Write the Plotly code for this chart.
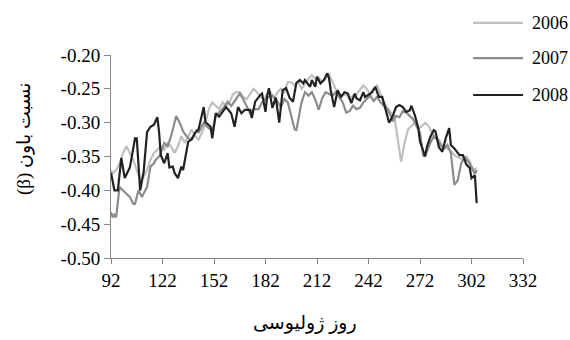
import plotly.graph_objects as go

# ---------------- data ----------------
days_2006 = [92, 93, 95, 97, 99, 101, 103, 105, 107, 109, 111, 113, 115, 117, 119, 121, 123, 125, 127, 129,
             131, 133, 135, 137, 139, 141, 143, 145, 147, 149, 151, 153, 155, 157, 159, 161, 163, 165, 167, 169,
             171, 173, 175, 177, 179, 181, 183, 185, 187, 189, 191, 193, 195, 197, 199, 201, 203, 205, 207, 209,
             211, 213, 215, 217, 219, 221, 223, 225, 227, 229, 231, 233, 235, 237, 239, 241, 243, 245, 247, 249,
             251, 253, 255, 257, 259, 261, 263, 265, 267, 269, 271, 273, 275, 277, 279, 281, 283, 285, 287, 289,
             291, 293, 295, 297, 299, 301, 303, 305]
vals_2006 = [-0.370, -0.375, -0.370, -0.360, -0.345, -0.335, -0.345, -0.355, -0.370, -0.385, -0.380, -0.370,
             -0.355, -0.345, -0.340, -0.335, -0.340, -0.330, -0.335, -0.345, -0.335, -0.320, -0.330, -0.320,
             -0.310, -0.320, -0.325, -0.315, -0.300, -0.280, -0.270, -0.275, -0.280, -0.270, -0.275, -0.270,
             -0.258, -0.255, -0.255, -0.262, -0.265, -0.258, -0.250, -0.255, -0.262, -0.265, -0.258, -0.255,
             -0.265, -0.255, -0.250, -0.255, -0.240, -0.240, -0.245, -0.240, -0.250, -0.243, -0.235, -0.230,
             -0.235, -0.233, -0.240, -0.235, -0.228, -0.240, -0.250, -0.262, -0.260, -0.258, -0.265, -0.260,
             -0.258, -0.252, -0.245, -0.250, -0.258, -0.250, -0.245, -0.258, -0.270, -0.278, -0.285, -0.290,
             -0.325, -0.358, -0.330, -0.310, -0.305, -0.300, -0.310, -0.305, -0.300, -0.305, -0.315, -0.322,
             -0.325, -0.335, -0.338, -0.340, -0.345, -0.350, -0.352, -0.355, -0.350, -0.357, -0.370, -0.367]

days_2007 = [92, 93, 94, 95, 97, 99, 101, 103, 105, 106, 108, 110, 112, 113, 115, 117, 118, 120, 121, 123,
             125, 127, 129, 130, 132, 134, 136, 138, 140, 142, 143, 145, 146, 148, 150, 151, 153, 155, 157, 160,
             162, 163, 165, 167, 169, 171, 173, 175, 178, 180, 183, 186, 188, 191, 193, 195, 197, 199, 200, 201,
             203, 205, 207, 209, 211, 213, 215, 217, 219, 221, 223, 225, 227, 229, 231, 233, 235, 237, 239, 241,
             243, 245, 247, 249, 251, 253, 255, 256, 258, 260, 262, 264, 266, 268, 270, 272, 274, 276, 278, 280,
             282, 284, 286, 288, 290, 292, 294, 296, 298, 300, 302, 304, 305]
vals_2007 = [-0.432, -0.440, -0.435, -0.440, -0.395, -0.400, -0.405, -0.410, -0.420, -0.420, -0.400, -0.410,
             -0.400, -0.395, -0.365, -0.360, -0.355, -0.350, -0.345, -0.330, -0.335, -0.320, -0.300, -0.290,
             -0.300, -0.313, -0.320, -0.325, -0.320, -0.310, -0.315, -0.305, -0.300, -0.306, -0.310, -0.315,
             -0.291, -0.285, -0.280, -0.269, -0.275, -0.272, -0.264, -0.257, -0.265, -0.275, -0.286, -0.280,
             -0.280, -0.270, -0.263, -0.260, -0.265, -0.277, -0.265, -0.270, -0.290, -0.310, -0.311, -0.295,
             -0.270, -0.255, -0.260, -0.255, -0.266, -0.281, -0.264, -0.255, -0.258, -0.260, -0.255, -0.262,
             -0.270, -0.285, -0.283, -0.275, -0.280, -0.278, -0.270, -0.265, -0.260, -0.268, -0.262, -0.270,
             -0.275, -0.280, -0.290, -0.298, -0.290, -0.292, -0.283, -0.285, -0.290, -0.295, -0.305, -0.315,
             -0.350, -0.343, -0.330, -0.320, -0.325, -0.333, -0.338, -0.333, -0.345, -0.392, -0.385, -0.360,
             -0.352, -0.357, -0.366, -0.376, -0.370]

days_2008 = [92, 94, 96, 98, 100, 103, 106, 107, 109, 111, 113, 115, 117, 119, 120, 121, 123, 125, 126, 128,
             129, 131, 133, 134, 137, 139, 141, 143, 146, 147, 150, 151, 153, 155, 157, 159, 162, 164, 166, 168,
             170, 173, 174, 176, 179, 180, 182, 183, 184, 186, 188, 190, 192, 194, 196, 198, 200, 202, 204, 205,
             208, 209, 211, 212, 214, 216, 218, 219, 220, 222, 224, 226, 228, 230, 232, 234, 235, 237, 239, 240,
             243, 244, 246, 248, 250, 252, 254, 256, 258, 260, 262, 264, 266, 267, 269, 271, 272, 275, 276, 278,
             280, 281, 283, 285, 287, 289, 290, 292, 295, 297, 299, 301, 302, 304, 305]
vals_2008 = [-0.374, -0.400, -0.400, -0.352, -0.382, -0.366, -0.323, -0.323, -0.400, -0.373, -0.314, -0.306,
             -0.303, -0.292, -0.314, -0.348, -0.360, -0.345, -0.366, -0.365, -0.374, -0.382, -0.365, -0.370,
             -0.328, -0.325, -0.315, -0.310, -0.277, -0.299, -0.306, -0.323, -0.286, -0.291, -0.284, -0.277,
             -0.286, -0.306, -0.277, -0.286, -0.281, -0.281, -0.293, -0.269, -0.259, -0.257, -0.284, -0.260,
             -0.249, -0.278, -0.263, -0.300, -0.252, -0.249, -0.263, -0.269, -0.241, -0.237, -0.242, -0.237,
             -0.247, -0.237, -0.247, -0.232, -0.242, -0.237, -0.227, -0.234, -0.252, -0.277, -0.252, -0.262,
             -0.255, -0.257, -0.271, -0.257, -0.264, -0.267, -0.255, -0.262, -0.257, -0.255, -0.247, -0.262,
             -0.262, -0.281, -0.300, -0.291, -0.277, -0.274, -0.277, -0.284, -0.282, -0.275, -0.289, -0.308,
             -0.328, -0.350, -0.336, -0.321, -0.311, -0.313, -0.336, -0.343, -0.323, -0.308, -0.333, -0.338,
             -0.348, -0.348, -0.362, -0.367, -0.382, -0.378, -0.419]

series_names = ["2006", "2007", "2008"]
x_ticks = [92, 122, 152, 182, 212, 242, 272, 302, 332]
y_ticks = [-0.50, -0.45, -0.40, -0.35, -0.30, -0.25, -0.20]
y_tick_labels = ["-0.50", "-0.45", "-0.40", "-0.35", "-0.30", "-0.25", "-0.20"]

x_title = "روز ژولیوسی"
y_title = "نسبت باون (β)"

# ---------------- figure ----------------
colors = ["#C0C0C0", "#8C8C8C", "#222222"]
font_fam = "Liberation Serif"
title_fam = "Liberation Serif, DejaVu Sans"
axis_col = "#868686"

fig = go.Figure()
for name, xs, ys, c in zip(series_names,
                           [days_2006, days_2007, days_2008],
                           [vals_2006, vals_2007, vals_2008],
                           colors):
    fig.add_trace(go.Scatter(x=xs, y=ys, mode="lines", name=name,
                             line=dict(color=c, width=2.2), showlegend=False))

# legend drawn at the top right, outside the plotting area (paper coordinates)
leg_y = [1.158, 0.985, 0.803]
for name, c, ly in zip(series_names, colors, leg_y):
    fig.add_shape(type="line", xref="paper", yref="paper", x0=0.879, x1=1.0, y0=ly, y1=ly,
                  line=dict(color=c, width=2.2))
    fig.add_annotation(xref="paper", yref="paper", x=1.017, y=ly, text=name, showarrow=False,
                       xanchor="left", yanchor="middle", font=dict(family=font_fam, size=18, color="#000"))

# axis titles
fig.add_annotation(xref="paper", yref="paper", x=0.471, y=-0.32, text=x_title, showarrow=False,
                   xanchor="center", yanchor="middle", font=dict(family=title_fam, size=19, color="#000"))
fig.add_annotation(xref="paper", yref="paper", x=-0.211, y=0.586, text="\u202b" + y_title + "\u202c",
                   showarrow=False, textangle=-90, xanchor="center", yanchor="middle",
                   font=dict(family=title_fam, size=19, color="#000"))

fig.update_layout(
    width=570, height=340,
    margin=dict(l=111, r=47, t=55, b=82),
    paper_bgcolor="white", plot_bgcolor="white",
    font=dict(family=font_fam, size=19, color="#000000"),
    showlegend=False,
    xaxis=dict(range=[92, 332], tickvals=x_ticks, showgrid=False, zeroline=False,
               showline=True, linecolor=axis_col, linewidth=1,
               ticks="outside", ticklen=5, tickcolor=axis_col,
               tickfont=dict(family=font_fam, size=19)),
    yaxis=dict(range=[-0.50, -0.20], tickvals=y_ticks, ticktext=y_tick_labels, showgrid=False,
               zeroline=False, showline=True, linecolor=axis_col, linewidth=1,
               ticks="outside", ticklen=6, tickcolor=axis_col,
               tickfont=dict(family=font_fam, size=19)),
)

fig.write_html("out.html")
